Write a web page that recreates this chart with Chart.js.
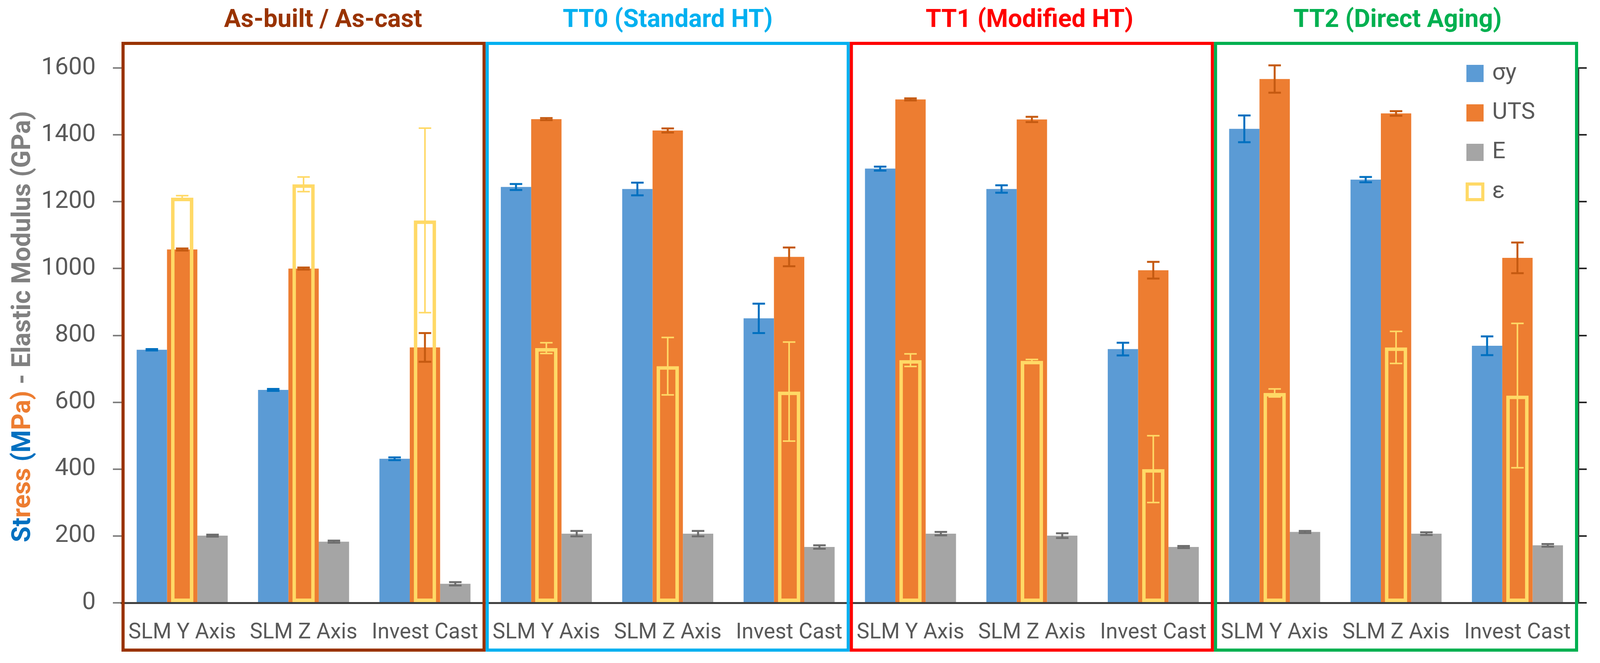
<!DOCTYPE html>
<html>
<head>
<meta charset="utf-8">
<script src="https://cdn.jsdelivr.net/npm/chart.js@4.4.0/dist/chart.umd.min.js"></script>
<style>
html,body{margin:0;padding:0;background:#ffffff;}
#wrap{width:4305px;height:1697px;position:relative;}
</style>
</head>
<body>
<div id="wrap"><canvas id="c"></canvas></div>
<script>
// ---------- data ----------
const categories = ['SLM Y Axis','SLM Z Axis','Invest Cast','SLM Y Axis','SLM Z Axis','Invest Cast','SLM Y Axis','SLM Z Axis','Invest Cast','SLM Y Axis','SLM Z Axis','Invest Cast'];
const groupTitles = ['As-built / As-cast','TT0 (Standard HT)','TT1 (Modified HT)','TT2 (Direct Aging)'];
const seriesNames = ['σy','UTS','E','ε'];
const yieldStress = [757, 637, 431, 1244, 1238, 851, 1299, 1238, 759, 1418, 1266, 769];
const yieldErr    = [2, 3, 4, 9, 19, 44, 6, 11, 19, 40, 8, 28];
const uts         = [1057, 1000, 764, 1447, 1413, 1035, 1506, 1446, 995, 1567, 1464, 1032];
const utsErr      = [3, 3, 43, 3, 6, 28, 3, 8, 25, 41, 7, 46];
const modulus     = [201, 183, 57, 207, 207, 167, 207, 201, 167, 212, 207, 172];
const modulusErr  = [3, 3, 5, 8, 8, 5, 5, 7, 3, 3, 4, 4];
const strain      = [30.3, 31.3, 28.6, 19.05, 17.7, 15.8, 18.15, 18.1, 10.0, 15.7, 19.1, 15.5];
const strainErr   = [0.15, 0.55, 6.9, 0.4, 2.15, 3.7, 0.47, 0.1, 2.5, 0.3, 1.2, 5.4];
const stressTicks = [0, 200, 400, 600, 800, 1000, 1200, 1400, 1600];
const strainTicks = [0, 5, 10, 15, 20, 25, 30, 35, 40];

// ---------- styles ----------
const groupColors = ['#993300', '#00B0F0', '#FF0000', '#00B050'];
const titleShift = [50, 0, -6, 4];
const FONT = 'Roboto, "Open Sans", "DejaVu Sans", sans-serif';
Chart.defaults.font.family = FONT;

const errorBars = {
  id: 'errorBars',
  afterDatasetsDraw(chart) {
    const ctx = chart.ctx;
    chart.data.datasets.forEach((ds, i) => {
      if (!ds.errors) return;
      const meta = chart.getDatasetMeta(i);
      const ys = chart.scales[meta.yAxisID];
      ctx.save();
      ctx.strokeStyle = ds.errColor;
      ctx.lineWidth = ds.errWidth;
      meta.data.forEach((el, j) => {
        const v = ds.data[j], e = ds.errors[j];
        const x = el.x;
        const yt = ys.getPixelForValue(v + e), yb = ys.getPixelForValue(v - e);
        ctx.beginPath();
        ctx.moveTo(x, yt); ctx.lineTo(x, yb);
        ctx.moveTo(x - 16, yt); ctx.lineTo(x + 16, yt);
        ctx.moveTo(x - 16, yb); ctx.lineTo(x + 16, yb);
        ctx.stroke();
      });
      ctx.restore();
    });
  }
};

const decor = {
  id: 'decor',
  afterDraw(chart) {
    const ctx = chart.ctx, ca = chart.chartArea, xs = chart.scales.x;
    // group frames + titles
    groupTitles.forEach((t, g) => {
      const xl = xs.getPixelForValue(g * 3 - 0.5);
      const xr = xs.getPixelForValue(g * 3 + 2.5);
      ctx.save();
      ctx.strokeStyle = groupColors[g];
      ctx.lineWidth = 8;
      ctx.strokeRect(xl + 4, ca.top - 63, xr - xl - 8, (ca.bottom + 121) - (ca.top - 63));
      ctx.fillStyle = groupColors[g];
      ctx.font = 'bold 64px ' + FONT;
      ctx.textAlign = 'center';
      ctx.textBaseline = 'alphabetic';
      ctx.fillText(t, (xl + xr) / 2 + titleShift[g], ca.top - 105);
      ctx.restore();
    });
    // left axis title (multi-colour)
    const parts = [
      ['St', '#0070C0'], ['ress ', '#ED7D31'], ['(M', '#0070C0'], ['Pa)', '#ED7D31'],
      [' - Elastic Modulus (GPa)', '#808080']
    ];
    ctx.save();
    ctx.font = 'bold 66px ' + FONT;
    ctx.translate(60, 836);
    ctx.rotate(-Math.PI / 2);
    ctx.textBaseline = 'middle';
    ctx.textAlign = 'left';
    const total = parts.reduce((s, p) => s + ctx.measureText(p[0]).width, 0);
    let cx = -total / 2;
    parts.forEach(p => {
      ctx.fillStyle = p[1];
      ctx.fillText(p[0], cx, 0);
      cx += ctx.measureText(p[0]).width;
    });
    ctx.restore();
    // right axis title
    ctx.save();
    ctx.font = 'bold 66px ' + FONT;
    ctx.translate(4246, 857);
    ctx.rotate(-Math.PI / 2);
    ctx.textBaseline = 'middle';
    ctx.textAlign = 'center';
    ctx.fillStyle = '#FFC000';
    ctx.fillText('Strain (%)', 0, 0);
    ctx.restore();
    // legend
    ctx.save();
    ctx.font = '60px ' + FONT;
    ctx.textBaseline = 'middle';
    ctx.textAlign = 'left';
    chart.data.datasets.forEach((ds, i) => {
      const yc = ca.top + 14 + i * 101;
      const x0 = ca.right - 286;
      if (ds.legendOutline) {
        ctx.fillStyle = '#ffffff';
        ctx.fillRect(x0 - 2, yc - 24, 48, 48);
        ctx.strokeStyle = ds.borderColor;
        ctx.lineWidth = 8;
        ctx.strokeRect(x0 + 2, yc - 20, 40, 40);
      } else {
        ctx.fillStyle = ds.backgroundColor;
        ctx.fillRect(x0, yc - 22, 44, 44);
      }
      ctx.fillStyle = '#595959';
      ctx.fillText(ds.label, x0 + 66, yc);
    });
    ctx.restore();
  }
};

new Chart(document.getElementById('c'), {
  type: 'bar',
  data: {
    labels: categories,
    datasets: [
      { label: seriesNames[0], data: yieldStress, errors: yieldErr, errColor: '#0070C0', errWidth: 5,
        backgroundColor: '#5B9BD5', yAxisID: 'y', order: 1, categoryPercentage: 0.75, barPercentage: 1.0 },
      { label: seriesNames[1], data: uts, errors: utsErr, errColor: '#C55A11', errWidth: 5,
        backgroundColor: '#ED7D31', yAxisID: 'y', order: 2, categoryPercentage: 0.75, barPercentage: 1.0 },
      { label: seriesNames[2], data: modulus, errors: modulusErr, errColor: '#6E6E6E', errWidth: 5,
        backgroundColor: '#A5A5A5', yAxisID: 'y', order: 3, categoryPercentage: 0.75, barPercentage: 1.0 },
      { label: seriesNames[3], data: strain, errors: strainErr, errColor: '#FFD966', errWidth: 4,
        backgroundColor: 'rgba(0,0,0,0)', borderColor: '#FFD966', borderWidth: 9, borderSkipped: false,
        legendOutline: true, yAxisID: 'y1', order: 0, grouped: false, categoryPercentage: 1.0, barPercentage: 0.184 }
    ]
  },
  options: {
    responsive: true,
    maintainAspectRatio: false,
    devicePixelRatio: 1,
    animation: false,
    layout: { padding: { top: 174, left: 0, right: 0, bottom: 0 } },
    plugins: { legend: { display: false }, title: { display: false }, tooltip: { enabled: false } },
    scales: {
      x: {
        z: 1,
        offset: true,
        grid: { display: false, drawTicks: false, tickLength: 0 },
        border: { display: true, color: '#404040', width: 5 },
        ticks: { color: '#595959', font: { size: 55 }, padding: 44, maxRotation: 0, autoSkip: false },
        afterFit(s) { s.height = 154; }
      },
      y: {
        position: 'left',
        min: stressTicks[0], max: stressTicks[stressTicks.length - 1],
        grid: { display: true, drawOnChartArea: false, drawTicks: true, tickLength: 22, color: '#808080', lineWidth: 4 },
        border: { display: false },
        ticks: { stepSize: stressTicks[1] - stressTicks[0], color: '#595959', font: { size: 62 }, padding: 44,
                 format: { useGrouping: false } },
        afterFit(s) { s.width = 311; }
      },
      y1: {
        position: 'right',
        min: strainTicks[0], max: strainTicks[strainTicks.length - 1],
        grid: { display: true, drawOnChartArea: false, drawTicks: true, tickLength: 22, color: '#262626', lineWidth: 4 },
        border: { display: true, color: '#404040', width: 5 },
        ticks: { stepSize: strainTicks[1] - strainTicks[0], color: '#595959', font: { size: 62 }, padding: 46,
                 format: { useGrouping: false } },
        afterFit(s) { s.width = 265; }
      }
    }
  },
  plugins: [errorBars, decor]
});
</script>
</body>
</html>
